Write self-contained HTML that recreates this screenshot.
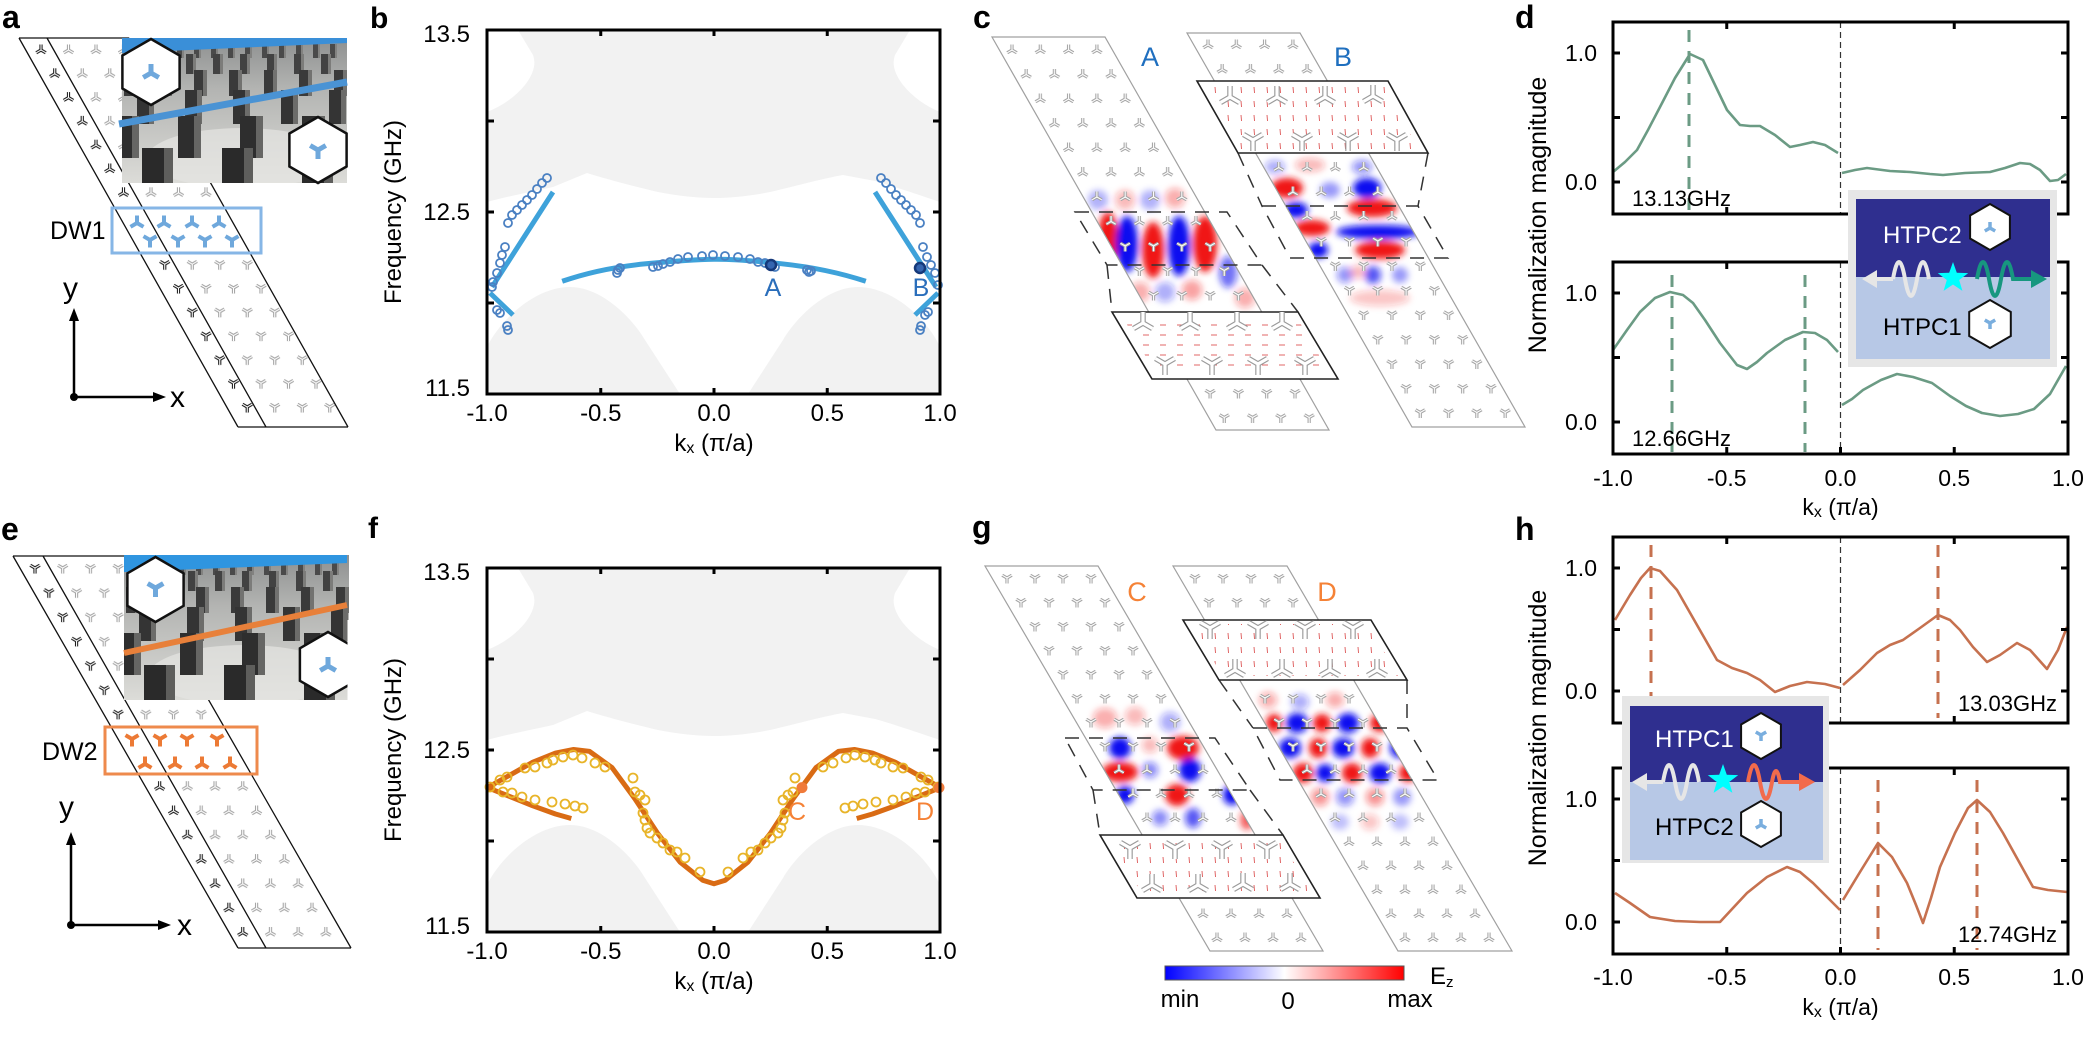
<!DOCTYPE html>
<html><head><meta charset="utf-8"><style>html,body{margin:0;padding:0;background:#fff}svg{display:block}</style></head>
<body>
<svg xmlns="http://www.w3.org/2000/svg" width="2096" height="1051" viewBox="0 0 2096 1051" font-family="'Liberation Sans', Arial, sans-serif">
<defs>
<path id="pA" d="M0 0V-5.5M0 0L-4.8 2.8M0 0L4.8 2.8" fill="none"/>
<path id="pY" d="M0 0V5.5M0 0L-4.8-2.8M0 0L4.8-2.8" fill="none"/>
<g id="kA"><use href="#pA" stroke="#1a1a1a" stroke-width="3.2"/><use href="#pA" stroke="#fff" stroke-width="1.1"/></g>
<g id="kY"><use href="#pY" stroke="#1a1a1a" stroke-width="3.2"/><use href="#pY" stroke="#fff" stroke-width="1.1"/></g>
<g id="gA"><use href="#pA" stroke="#a3a3a3" stroke-width="3.2"/><use href="#pA" stroke="#fff" stroke-width="1.1"/></g>
<g id="gY"><use href="#pY" stroke="#a3a3a3" stroke-width="3.2"/><use href="#pY" stroke="#fff" stroke-width="1.1"/></g>
<path id="pAm" d="M0 0V-7.5M0 0L-6.5 3.8M0 0L6.5 3.8" fill="none"/>
<path id="pYm" d="M0 0V7.5M0 0L-6.5-3.8M0 0L6.5-3.8" fill="none"/>
<path id="pAh" d="M0 0V-9M0 0L-7.8 4.5M0 0L7.8 4.5" fill="none"/>
<path id="pYh" d="M0 0V9M0 0L-7.8-4.5M0 0L7.8-4.5" fill="none"/>
<path id="pAs" d="M0 0V-6M0 0L-5.2 3M0 0L5.2 3" fill="none"/>
<path id="pYs" d="M0 0V6M0 0L-5.2-3M0 0L5.2-3" fill="none"/>
<path id="pAb" d="M0 0V-11M0 0L-9.5 5.5M0 0L9.5 5.5" fill="none"/>
<path id="pYb" d="M0 0V11M0 0L-9.5-5.5M0 0L9.5-5.5" fill="none"/>
<g id="bA"><use href="#pAb" stroke="#9a9a9a" stroke-width="5.5"/><use href="#pAb" stroke="#fff" stroke-width="3.2"/></g>
<g id="bY"><use href="#pYb" stroke="#9a9a9a" stroke-width="5.5"/><use href="#pYb" stroke="#fff" stroke-width="3.2"/></g>

<pattern id="paKA" patternUnits="userSpaceOnUse" x="34" y="43" width="27.5" height="47.6"><use href="#kA" x="7" y="7"/><use href="#kA" x="20.75" y="30.8"/></pattern>
<pattern id="paGA" patternUnits="userSpaceOnUse" x="34" y="43" width="27.5" height="47.6"><use href="#gA" x="7" y="7"/><use href="#gA" x="20.75" y="30.8"/></pattern>
<pattern id="paKY" patternUnits="userSpaceOnUse" x="34" y="43" width="27.5" height="47.6"><use href="#kY" x="7" y="7"/><use href="#kY" x="20.75" y="30.8"/></pattern>
<pattern id="paGY" patternUnits="userSpaceOnUse" x="34" y="43" width="27.5" height="47.6"><use href="#gY" x="7" y="7"/><use href="#gY" x="20.75" y="30.8"/></pattern>
<pattern id="peKA" patternUnits="userSpaceOnUse" x="28" y="561" width="27.7" height="48.6"><use href="#kA" x="7" y="7"/><use href="#kA" x="20.85" y="31.3"/></pattern>
<pattern id="peGA" patternUnits="userSpaceOnUse" x="28" y="561" width="27.7" height="48.6"><use href="#gA" x="7" y="7"/><use href="#gA" x="20.85" y="31.3"/></pattern>
<pattern id="peKY" patternUnits="userSpaceOnUse" x="28" y="561" width="27.7" height="48.6"><use href="#kY" x="7" y="7"/><use href="#kY" x="20.85" y="31.3"/></pattern>
<pattern id="peGY" patternUnits="userSpaceOnUse" x="28" y="561" width="27.7" height="48.6"><use href="#gY" x="7" y="7"/><use href="#gY" x="20.85" y="31.3"/></pattern>
<pattern id="pcAA" patternUnits="userSpaceOnUse" x="1005" y="43" width="28.3" height="49"><use href="#gA" x="7" y="7"/><use href="#gA" x="21.15" y="31.5"/></pattern>
<pattern id="pcAY" patternUnits="userSpaceOnUse" x="1005" y="43" width="28.3" height="49"><use href="#gY" x="7" y="7"/><use href="#gY" x="21.15" y="31.5"/></pattern>
<pattern id="pcBA" patternUnits="userSpaceOnUse" x="1201" y="38" width="28.3" height="49"><use href="#gA" x="7" y="7"/><use href="#gA" x="21.15" y="31.5"/></pattern>
<pattern id="pcBY" patternUnits="userSpaceOnUse" x="1201" y="38" width="28.3" height="49"><use href="#gY" x="7" y="7"/><use href="#gY" x="21.15" y="31.5"/></pattern>
<pattern id="pgCA" patternUnits="userSpaceOnUse" x="1000" y="571" width="28" height="48"><use href="#gA" x="7" y="7"/><use href="#gA" x="21" y="31"/></pattern>
<pattern id="pgCY" patternUnits="userSpaceOnUse" x="1000" y="571" width="28" height="48"><use href="#gY" x="7" y="7"/><use href="#gY" x="21" y="31"/></pattern>
<pattern id="pgDA" patternUnits="userSpaceOnUse" x="1188" y="571" width="28" height="48"><use href="#gA" x="7" y="7"/><use href="#gA" x="21" y="31"/></pattern>
<pattern id="pgDY" patternUnits="userSpaceOnUse" x="1188" y="571" width="28" height="48"><use href="#gY" x="7" y="7"/><use href="#gY" x="21" y="31"/></pattern>

<pattern id="arH" patternUnits="userSpaceOnUse" width="17" height="10"><path d="M4 5H10" stroke="#d42a2a" stroke-width="0.9" opacity="0.8"/></pattern>
<pattern id="arV" patternUnits="userSpaceOnUse" width="13" height="14"><path d="M6 3L6.5 9" stroke="#d42a2a" stroke-width="0.9" opacity="0.8"/></pattern>

<filter id="bl" x="-30%" y="-30%" width="160%" height="160%"><feGaussianBlur stdDeviation="3.5"/></filter>

<clipPath id="clA"><polygon points="1073.7,180 1186.7,180 1262,312 1149,312"/></clipPath>
<clipPath id="clB"><polygon points="1255.5,153 1368.5,153 1469.6,330 1356.6,330"/></clipPath>
<clipPath id="clC"><polygon points="1063,700 1176,700 1255,835 1142,835"/></clipPath>
<clipPath id="clD"><polygon points="1240,680 1354,680 1459,860 1345,860"/></clipPath>
<clipPath id="clb"><rect x="487" y="30" width="453" height="364"/></clipPath>
<clipPath id="phc"><rect x="0" y="0" width="225" height="145"/></clipPath>

<linearGradient id="phg" x1="0" y1="0" x2="0" y2="1"><stop offset="0" stop-color="#8e9090"/><stop offset="0.35" stop-color="#b3b4b2"/><stop offset="1" stop-color="#dcdcd8"/></linearGradient>
<pattern id="pr1" patternUnits="userSpaceOnUse" x="4" y="0" width="17" height="200"><rect x="0" y="0" width="5" height="200" fill="#4a4a4a"/><rect x="5" y="0" width="2" height="200" fill="#828280"/></pattern>
<pattern id="pr2" patternUnits="userSpaceOnUse" x="10" y="0" width="27" height="200"><rect x="0" y="0" width="7" height="200" fill="#424242"/><rect x="7" y="0" width="3" height="200" fill="#7c7c7a"/></pattern>
<pattern id="pr3" patternUnits="userSpaceOnUse" x="2" y="0" width="35" height="200"><rect x="0" y="0" width="9" height="200" fill="#3a3a3a"/><rect x="9" y="0" width="4" height="200" fill="#727270"/></pattern>
<pattern id="pr4" patternUnits="userSpaceOnUse" x="15" y="0" width="48" height="200"><rect x="0" y="0" width="12" height="200" fill="#343434"/><rect x="12" y="0" width="5" height="200" fill="#6c6c6a"/></pattern>
<pattern id="pr5" patternUnits="userSpaceOnUse" x="-6" y="0" width="62" height="200"><rect x="0" y="0" width="16" height="200" fill="#2e2e2e"/><rect x="16" y="0" width="7" height="200" fill="#666664"/></pattern>
<pattern id="pr6" patternUnits="userSpaceOnUse" x="20" y="0" width="80" height="200"><rect x="0" y="0" width="22" height="200" fill="#2a2a2a"/><rect x="22" y="0" width="9" height="200" fill="#5e5e5c"/></pattern>
<g id="photo"><g clip-path="url(#phc)">
<rect x="0" y="0" width="225" height="145" fill="url(#phg)"/>
<ellipse cx="120" cy="120" rx="95" ry="30" fill="#e6e6e2" opacity="0.7"/>
<rect x="0" y="6" width="225" height="14" fill="url(#pr1)"/>
<rect x="0" y="16" width="225" height="20" fill="url(#pr2)"/>
<rect x="0" y="32" width="225" height="26" fill="url(#pr3)"/>
<rect x="0" y="52" width="225" height="34" fill="url(#pr4)"/>
<rect x="0" y="78" width="225" height="42" fill="url(#pr5)"/>
<rect x="0" y="110" width="225" height="40" fill="url(#pr6)"/>
</g></g>
<linearGradient id="cbar" x1="0" y1="0" x2="1" y2="0"><stop offset="0" stop-color="#0000ff"/><stop offset="0.5" stop-color="#ffffff"/><stop offset="1" stop-color="#ff0000"/></linearGradient>
</defs>

<rect x="0" y="0" width="2096" height="1051" fill="#fff"/>

<!-- ================= PANEL a ================= -->
<text x="2" y="28" font-size="32" font-weight="bold">a</text>
<polygon points="19,38 47,38 141,205 113,205" fill="url(#paKA)"/>
<polygon points="47,38 129,38 223,205 141,205" fill="url(#paGA)"/>
<polygon points="141.7,256 169.7,256 266,427 238,427" fill="url(#paKY)"/>
<polygon points="169.7,256 251.7,256 348,427 266,427" fill="url(#paGY)"/>
<g stroke="#111" stroke-width="1.3" fill="none">
<path d="M19 38L238 427M47 38L266 427M129 38L348 427M19 38H129M238 427H348"/>
</g>
<use href="#photo" transform="translate(122,38)"/>
<polygon points="122,38 347,38 347,43 122,53" fill="#3a8fd8"/>
<polygon points="151,39 179.6,55.5 179.6,88.5 151,105 122.4,88.5 122.4,55.5" fill="#fff" stroke="#111" stroke-width="2.5"/>
<use href="#pAh" x="151" y="73" stroke="#6fa8dc" stroke-width="5"/>
<line x1="119" y1="124" x2="347" y2="82" stroke="#4a93d4" stroke-width="7"/>
<polygon points="318,117 346.6,133.5 346.6,166.5 318,183 289.4,166.5 289.4,133.5" fill="#fff" stroke="#111" stroke-width="2.5"/>
<use href="#pYh" x="318" y="150" stroke="#6fa8dc" stroke-width="5"/>
<rect x="112" y="208" width="149" height="45" fill="none" stroke="#86b6e6" stroke-width="3"/>
<g stroke="#6fa8dc" stroke-width="4">
<use href="#pAm" x="137" y="223"/><use href="#pAm" x="164" y="223"/><use href="#pAm" x="192" y="223"/><use href="#pAm" x="219" y="223"/>
<use href="#pYm" x="150" y="240"/><use href="#pYm" x="178" y="240"/><use href="#pYm" x="205" y="240"/><use href="#pYm" x="232" y="240"/>
</g>
<text x="50" y="239" font-size="25">DW1</text>
<g stroke="#000" stroke-width="2.5" fill="#000">
<line x1="74" y1="397" x2="74" y2="318"/><polygon points="74,308 69,321 79,321" stroke="none"/>
<line x1="74" y1="397" x2="155" y2="397"/><polygon points="166,397 153,392 153,402" stroke="none"/>
<circle cx="74" cy="397" r="4" stroke="none"/>
</g>
<text x="63" y="298" font-size="30">y</text>
<text x="170" y="407" font-size="30">x</text>

<!-- ================= PANEL e ================= -->
<text x="1" y="540" font-size="32" font-weight="bold">e</text>
<polygon points="13,556 43,556 141,728 112,728" fill="url(#peKY)"/>
<polygon points="43,556 126,556 225,728 141,728" fill="url(#peGY)"/>
<polygon points="139,776 168,776 266,948 238,948" fill="url(#peKA)"/>
<polygon points="168,776 252,776 351,948 266,948" fill="url(#peGA)"/>
<g stroke="#111" stroke-width="1.3" fill="none">
<path d="M13 556L238 948M43 556L266 948M126 556L351 948M13 556H126M238 948H351"/>
</g>
<use href="#photo" transform="translate(124,555)"/>
<polygon points="124,555 347,555 347,563 124,572" fill="#2f95e0"/>
<polygon points="155.5,557 183.6,573.3 183.6,605.8 155.5,622 127.4,605.8 127.4,573.3" fill="#fff" stroke="#111" stroke-width="2.5"/>
<use href="#pYh" x="155.5" y="588" stroke="#6fa8dc" stroke-width="5"/>
<line x1="124" y1="653" x2="347" y2="605" stroke="#e8803a" stroke-width="6"/>
<polygon points="328,632 356.1,648.3 356.1,680.8 328,697 299.9,680.8 299.9,648.3" fill="#fff" stroke="#111" stroke-width="2.5"/>
<rect x="347.5" y="620" width="12" height="85" fill="#fff"/>
<use href="#pAh" x="328" y="666" stroke="#6fa8dc" stroke-width="5"/>
<rect x="105" y="727" width="152" height="47" fill="none" stroke="#ee8a4c" stroke-width="3"/>
<g stroke="#ec7a35" stroke-width="4">
<use href="#pYm" x="132" y="739"/><use href="#pYm" x="160" y="739"/><use href="#pYm" x="187" y="739"/><use href="#pYm" x="217" y="739"/>
<use href="#pAm" x="145" y="764"/><use href="#pAm" x="175" y="764"/><use href="#pAm" x="202" y="764"/><use href="#pAm" x="230" y="764"/>
</g>
<text x="42" y="760" font-size="25">DW2</text>
<g stroke="#000" stroke-width="2.5" fill="#000">
<line x1="71" y1="925" x2="71" y2="842"/><polygon points="71,832 66,845 76,845" stroke="none"/>
<line x1="71" y1="925" x2="160" y2="925"/><polygon points="171,925 158,920 158,930" stroke="none"/>
<circle cx="71" cy="925" r="4" stroke="none"/>
</g>
<text x="59" y="817" font-size="30">y</text>
<text x="177" y="935" font-size="30">x</text>

<!-- ================= PANEL b ================= -->
<text x="370" y="28" font-size="30" font-weight="bold">b</text>
<g clip-path="url(#clb)" fill="#f2f2f2">
<path d="M518 30L910 30L895 55Q890 68 903 85Q918 103 940 112L940 202C925 197 890 185 875 181L843 175C825 178 800 185 770 192C750 196 730 198 714 198C698 198 678 196 658 192C628 185 603 178 587 173L553 187C530 192 505 197 487 202L487 112Q510 103 525 85Q538 68 533 55Z"/>
<path d="M487 347C500 320 535 287 570 287C600 287 630 315 645 340L680 394L487 394Z"/>
<path d="M940 347C928 320 893 287 858 287C828 287 798 315 783 340L748 394L940 394Z"/>
</g>
<g stroke="#3ea2da" stroke-width="5" fill="none" stroke-linecap="butt">
<path d="M562.2 281.3Q600.75 268 646 263.8T714 259.3T782 263.8T865.8 281.3"/>
<path d="M553 192L492 287M490 293L513 315"/>
<path d="M875 192L936 287M938 293L915 315"/>
</g>
<g fill="none" stroke="#4a80c2" stroke-width="1.8">
<circle cx="547" cy="178" r="4"/><circle cx="542" cy="183" r="4"/><circle cx="537" cy="189" r="4"/><circle cx="532" cy="195" r="4"/><circle cx="527" cy="200" r="4"/><circle cx="522" cy="205" r="4"/><circle cx="517" cy="210" r="4"/><circle cx="512" cy="215" r="4"/><circle cx="508" cy="223" r="4"/><circle cx="505" cy="247" r="4"/><circle cx="502" cy="255" r="4"/><circle cx="500" cy="263" r="4"/><circle cx="497" cy="273" r="4"/><circle cx="493" cy="282" r="4"/><circle cx="492" cy="287" r="4"/><circle cx="497" cy="310" r="4"/><circle cx="500" cy="313" r="4"/><circle cx="508" cy="330" r="4"/><circle cx="507" cy="326" r="4"/>
<circle cx="881" cy="178" r="4"/><circle cx="886" cy="183" r="4"/><circle cx="891" cy="189" r="4"/><circle cx="896" cy="195" r="4"/><circle cx="901" cy="200" r="4"/><circle cx="906" cy="205" r="4"/><circle cx="911" cy="210" r="4"/><circle cx="916" cy="215" r="4"/><circle cx="920" cy="223" r="4"/><circle cx="923" cy="247" r="4"/><circle cx="927" cy="257" r="4"/><circle cx="931" cy="265" r="4"/><circle cx="935" cy="273" r="4"/><circle cx="938" cy="285" r="4"/><circle cx="928" cy="312" r="4"/><circle cx="925" cy="315" r="4"/><circle cx="920" cy="330" r="4"/><circle cx="921" cy="326" r="4"/>
<circle cx="617" cy="273" r="4"/><circle cx="618" cy="270" r="4"/><circle cx="620" cy="268" r="4"/><circle cx="653" cy="267" r="4"/><circle cx="658" cy="266" r="4"/><circle cx="663" cy="264" r="4"/><circle cx="670" cy="262" r="4"/><circle cx="678" cy="259" r="4"/><circle cx="688" cy="257" r="4"/><circle cx="702" cy="256" r="4"/><circle cx="713" cy="255" r="4"/><circle cx="725" cy="256" r="4"/><circle cx="738" cy="257" r="4"/><circle cx="750" cy="259" r="4"/><circle cx="758" cy="262" r="4"/><circle cx="765" cy="263" r="4"/><circle cx="775" cy="267" r="4"/><circle cx="807" cy="270" r="4"/><circle cx="809" cy="272" r="4"/><circle cx="811" cy="271" r="4"/>
</g>
<circle cx="771" cy="265" r="5" fill="#3565b0" stroke="#15397a" stroke-width="2.5"/>
<circle cx="920" cy="268" r="5" fill="#3565b0" stroke="#15397a" stroke-width="2.5"/>
<text x="773" y="296" font-size="25" fill="#2a6ebb" text-anchor="middle">A</text>
<text x="921" y="296" font-size="25" fill="#2a6ebb" text-anchor="middle">B</text>
<rect x="487" y="30" width="453" height="364" fill="none" stroke="#000" stroke-width="3"/>
<path d="M487 121h7M487 212h7M487 303h7M940 121h-7M940 212h-7M940 303h-7M600.75 30v6M714 30v6M827.25 30v6M600.75 394v-6M714 394v-6M827.25 394v-6" stroke="#000" stroke-width="3"/>
<g font-size="24" text-anchor="end"><text x="470" y="42">13.5</text><text x="470" y="220">12.5</text><text x="470" y="396">11.5</text></g>
<g font-size="24" text-anchor="middle"><text x="487" y="421">-1.0</text><text x="600.75" y="421">-0.5</text><text x="714" y="421">0.0</text><text x="827.25" y="421">0.5</text><text x="940" y="421">1.0</text>
<text x="714" y="451">k<tspan font-size="16" dy="2">x</tspan><tspan dy="-2"> (π/a)</tspan></text></g>
<text transform="translate(401,212) rotate(-90)" font-size="24" text-anchor="middle">Frequency (GHz)</text>

<!-- ================= PANEL f ================= -->
<text x="368" y="538" font-size="30" font-weight="bold">f</text>
<g transform="translate(0,538)">
<g clip-path="url(#clb)" fill="#f2f2f2">
<path d="M518 30L910 30L895 55Q890 68 903 85Q918 103 940 112L940 202C925 197 890 185 875 181L843 175C825 178 800 185 770 192C750 196 730 198 714 198C698 198 678 196 658 192C628 185 603 178 587 173L553 187C530 192 505 197 487 202L487 112Q510 103 525 85Q538 68 533 55Z"/>
<path d="M487 347C500 320 535 287 570 287C600 287 630 315 645 340L680 394L487 394Z"/>
<path d="M940 347C928 320 893 287 858 287C828 287 798 315 783 340L748 394L940 394Z"/>
</g>
</g>
<g stroke="#d96b14" stroke-width="5" fill="none" stroke-linejoin="round">
<polyline points="487.5,787.6 510.2,774.9 532.8,762.2 555.5,753.1 573.6,749.5 589.4,751.3 612.1,767.7 634.7,798.5 657.4,833 680,862 702.7,880.2 714,883.8 725.3,880.2 748,862 770.6,833 793.3,798.5 815.9,767.7 838.6,751.3 854.4,749.5 872.5,753.1 895.2,762.2 917.8,774.9 940.5,787.6"/>
<polyline points="487.5,787.6 510.2,796.7 532.8,805.8 555.5,814 571.3,818.5"/>
<polyline points="856.7,818.5 872.5,814 895.2,805.8 917.8,796.7 940.5,787.6"/>
</g>
<g fill="none" stroke="#e8b428" stroke-width="1.8">
<circle cx="490" cy="787" r="4.5"/><circle cx="500" cy="780" r="4.5"/><circle cx="507" cy="777" r="4.5"/><circle cx="525" cy="768" r="4.5"/><circle cx="535" cy="767" r="4.5"/><circle cx="547" cy="763" r="4.5"/><circle cx="553" cy="760" r="4.5"/><circle cx="563" cy="757" r="4.5"/><circle cx="573" cy="755" r="4.5"/><circle cx="582" cy="758" r="4.5"/><circle cx="595" cy="763" r="4.5"/><circle cx="605" cy="767" r="4.5"/><circle cx="633" cy="778" r="4.5"/><circle cx="635" cy="792" r="4.5"/><circle cx="640" cy="795" r="4.5"/><circle cx="645" cy="800" r="4.5"/><circle cx="643" cy="813" r="4.5"/><circle cx="645" cy="820" r="4.5"/><circle cx="647" cy="828" r="4.5"/><circle cx="650" cy="833" r="4.5"/><circle cx="657" cy="838" r="4.5"/><circle cx="663" cy="843" r="4.5"/><circle cx="670" cy="850" r="4.5"/><circle cx="677" cy="852" r="4.5"/><circle cx="685" cy="858" r="4.5"/><circle cx="700" cy="872" r="4.5"/><circle cx="728" cy="872" r="4.5"/>
<circle cx="938" cy="787" r="4.5"/><circle cx="928" cy="780" r="4.5"/><circle cx="921" cy="777" r="4.5"/><circle cx="903" cy="768" r="4.5"/><circle cx="893" cy="767" r="4.5"/><circle cx="881" cy="763" r="4.5"/><circle cx="875" cy="760" r="4.5"/><circle cx="865" cy="757" r="4.5"/><circle cx="855" cy="755" r="4.5"/><circle cx="846" cy="758" r="4.5"/><circle cx="833" cy="763" r="4.5"/><circle cx="823" cy="767" r="4.5"/><circle cx="795" cy="778" r="4.5"/><circle cx="793" cy="792" r="4.5"/><circle cx="788" cy="795" r="4.5"/><circle cx="783" cy="800" r="4.5"/><circle cx="785" cy="813" r="4.5"/><circle cx="783" cy="820" r="4.5"/><circle cx="781" cy="828" r="4.5"/><circle cx="778" cy="833" r="4.5"/><circle cx="771" cy="838" r="4.5"/><circle cx="765" cy="843" r="4.5"/><circle cx="758" cy="850" r="4.5"/><circle cx="751" cy="852" r="4.5"/><circle cx="743" cy="858" r="4.5"/>
<circle cx="503" cy="792" r="4.5"/><circle cx="512" cy="793" r="4.5"/><circle cx="522" cy="797" r="4.5"/><circle cx="535" cy="800" r="4.5"/><circle cx="552" cy="802" r="4.5"/><circle cx="565" cy="804" r="4.5"/><circle cx="575" cy="806" r="4.5"/><circle cx="583" cy="808" r="4.5"/>
<circle cx="925" cy="792" r="4.5"/><circle cx="916" cy="793" r="4.5"/><circle cx="906" cy="797" r="4.5"/><circle cx="893" cy="800" r="4.5"/><circle cx="876" cy="802" r="4.5"/><circle cx="863" cy="804" r="4.5"/><circle cx="853" cy="806" r="4.5"/><circle cx="845" cy="808" r="4.5"/>
</g>
<circle cx="802" cy="787.6" r="5.5" fill="#f07a3a"/>
<circle cx="939" cy="787.6" r="5.5" fill="#f07a3a"/>
<text x="797" y="820" font-size="25" fill="#f58236" text-anchor="middle">C</text>
<text x="925" y="820" font-size="25" fill="#f58236" text-anchor="middle">D</text>
<rect x="487" y="568" width="453" height="364" fill="none" stroke="#000" stroke-width="3"/>
<path d="M487 659h7M487 750h7M487 841h7M940 659h-7M940 750h-7M940 841h-7M600.75 568v6M714 568v6M827.25 568v6M600.75 932v-6M714 932v-6M827.25 932v-6" stroke="#000" stroke-width="3"/>
<g font-size="24" text-anchor="end"><text x="470" y="580">13.5</text><text x="470" y="758">12.5</text><text x="470" y="934">11.5</text></g>
<g font-size="24" text-anchor="middle"><text x="487" y="959">-1.0</text><text x="600.75" y="959">-0.5</text><text x="714" y="959">0.0</text><text x="827.25" y="959">0.5</text><text x="940" y="959">1.0</text>
<text x="714" y="989">k<tspan font-size="16" dy="2">x</tspan><tspan dy="-2"> (π/a)</tspan></text></g>
<text transform="translate(401,750) rotate(-90)" font-size="24" text-anchor="middle">Frequency (GHz)</text>

<!-- ================= PANEL c ================= -->
<text x="973" y="28" font-size="32" font-weight="bold">c</text>
<polygon points="992,37 1105,37 1329,430 1216,430" fill="#fff"/>
<polygon points="1187,33 1300,33 1525,427 1412,427" fill="#fff"/>
<g clip-path="url(#clA)"><g filter="url(#bl)">
<ellipse cx="1098" cy="200" rx="10" ry="10" fill="#1010f0" opacity=".3"/><ellipse cx="1125" cy="200" rx="10" ry="10" fill="#f01818" opacity=".3"/><ellipse cx="1150" cy="200" rx="10" ry="10" fill="#1010f0" opacity=".3"/><ellipse cx="1175" cy="198" rx="10" ry="10" fill="#f01818" opacity=".35"/>
<ellipse cx="1108" cy="238" rx="10" ry="26" fill="#f01818"/>
<ellipse cx="1127" cy="244" rx="11" ry="28" fill="#1010f0"/>
<ellipse cx="1153" cy="250" rx="11" ry="28" fill="#f01818"/>
<ellipse cx="1179" cy="246" rx="11" ry="30" fill="#1010f0"/>
<ellipse cx="1205" cy="244" rx="12" ry="28" fill="#f01818"/>
<ellipse cx="1228" cy="272" rx="9" ry="16" fill="#1010f0" opacity=".6"/>
<ellipse cx="1140" cy="292" rx="10" ry="10" fill="#f01818" opacity=".35"/><ellipse cx="1165" cy="292" rx="10" ry="10" fill="#1010f0" opacity=".35"/><ellipse cx="1192" cy="290" rx="10" ry="10" fill="#f01818" opacity=".4"/><ellipse cx="1245" cy="298" rx="10" ry="10" fill="#f01818" opacity=".35"/>
</g></g>
<g clip-path="url(#clB)"><g filter="url(#bl)">
<ellipse cx="1275" cy="167" rx="10" ry="7" fill="#1010f0" opacity=".35"/><ellipse cx="1310" cy="165" rx="15" ry="7" fill="#f01818" opacity=".3"/><ellipse cx="1362" cy="167" rx="10" ry="7" fill="#1010f0" opacity=".45"/>
<ellipse cx="1287" cy="188" rx="16" ry="10" fill="#f01818"/><ellipse cx="1330" cy="190" rx="10" ry="8" fill="#1010f0" opacity=".4"/><ellipse cx="1367" cy="188" rx="14" ry="10" fill="#1010f0"/>
<ellipse cx="1296" cy="210" rx="12" ry="8" fill="#1010f0"/><ellipse cx="1372" cy="208" rx="25" ry="9" fill="#f01818"/>
<ellipse cx="1312" cy="228" rx="18" ry="8" fill="#f01818"/><ellipse cx="1378" cy="232" rx="42" ry="7" fill="#1010f0"/>
<ellipse cx="1318" cy="250" rx="10" ry="8" fill="#1010f0"/><ellipse cx="1380" cy="250" rx="25" ry="9" fill="#f01818"/>
<ellipse cx="1345" cy="275" rx="8" ry="8" fill="#1010f0" opacity=".45"/><ellipse cx="1373" cy="275" rx="8" ry="9" fill="#1010f0" opacity=".7"/><ellipse cx="1400" cy="275" rx="8" ry="8" fill="#1010f0" opacity=".4"/><ellipse cx="1358" cy="272" rx="8" ry="7" fill="#f01818" opacity=".3"/>
<ellipse cx="1380" cy="298" rx="30" ry="8" fill="#f01818" opacity=".25"/>
</g></g>
<polygon points="992,37 1105,37 1218,235 1105,235" fill="url(#pcAA)"/>
<polygon points="1105,235 1218,235 1329,430 1216,430" fill="url(#pcAY)"/>
<polygon points="1187,33 1300,33 1412.5,230 1299.5,230" fill="url(#pcBA)"/>
<polygon points="1299.5,230 1412.5,230 1525,427 1412,427" fill="url(#pcBY)"/>
<polygon points="992,37 1105,37 1329,430 1216,430" fill="none" stroke="#a0a0a0" stroke-width="1.2"/>
<polygon points="1187,33 1300,33 1525,427 1412,427" fill="none" stroke="#a0a0a0" stroke-width="1.2"/>
<g fill="none" stroke="#333" stroke-width="1.5" stroke-dasharray="14,10">
<polygon points="1075,212 1227,212 1262,265 1107,265"/>
<path d="M1107 265L1112 312M1262 265L1298 312"/>
<polygon points="1262,206 1418,206 1448,258 1290,258"/>
<path d="M1238 153L1262 206M1428 153L1418 206"/>
</g>
<polygon points="1112,312 1298,312 1338,379 1152,379" fill="#fff"/>
<polygon points="1122,316 1296,316 1330,374 1156,374" fill="url(#arH)"/>
<polygon points="1112,312 1298,312 1338,379 1152,379" fill="none" stroke="#222" stroke-width="1.6"/>
<use href="#bA" x="1143" y="323"/><use href="#bA" x="1190" y="323"/><use href="#bA" x="1237" y="323"/><use href="#bA" x="1282" y="323"/>
<use href="#bY" x="1165" y="364"/><use href="#bY" x="1212" y="364"/><use href="#bY" x="1258" y="364"/><use href="#bY" x="1305" y="364"/>
<polygon points="1197,81 1388,81 1428,153 1238,153" fill="#fff"/>
<polygon points="1207,85 1384,85 1418,149 1240,149" fill="url(#arV)"/>
<polygon points="1197,81 1388,81 1428,153 1238,153" fill="none" stroke="#222" stroke-width="1.6"/>
<use href="#bA" x="1230" y="97"/><use href="#bA" x="1277" y="97"/><use href="#bA" x="1325" y="97"/><use href="#bA" x="1373" y="96"/>
<use href="#bY" x="1253" y="140"/><use href="#bY" x="1302" y="140"/><use href="#bY" x="1348" y="140"/><use href="#bY" x="1397" y="140"/>
<text x="1150" y="66" font-size="27" fill="#1f6fbf" text-anchor="middle">A</text>
<text x="1343" y="66" font-size="27" fill="#1f6fbf" text-anchor="middle">B</text>

<!-- ================= PANEL g ================= -->
<text x="972" y="538" font-size="32" font-weight="bold">g</text>
<polygon points="985,566 1098,566 1323,951 1210,951" fill="#fff"/>
<polygon points="1173,566 1287,566 1512,951 1398,951" fill="#fff"/>
<g clip-path="url(#clC)"><g filter="url(#bl)">
<ellipse cx="1105" cy="718" rx="12" ry="10" fill="#f01818" opacity=".35"/><ellipse cx="1135" cy="716" rx="10" ry="9" fill="#f01818" opacity=".3"/><ellipse cx="1170" cy="722" rx="10" ry="10" fill="#1010f0" opacity=".35"/>
<ellipse cx="1120" cy="748" rx="11" ry="11" fill="#1010f0"/><ellipse cx="1183" cy="748" rx="16" ry="12" fill="#f01818"/><ellipse cx="1150" cy="745" rx="8" ry="8" fill="#f01818" opacity=".3"/>
<ellipse cx="1120" cy="772" rx="18" ry="10" fill="#f01818"/><ellipse cx="1150" cy="770" rx="8" ry="8" fill="#1010f0" opacity=".5"/><ellipse cx="1190" cy="770" rx="11" ry="12" fill="#1010f0"/><ellipse cx="1235" cy="775" rx="8" ry="10" fill="#f01818" opacity=".7"/>
<ellipse cx="1125" cy="795" rx="9" ry="9" fill="#1010f0"/><ellipse cx="1177" cy="795" rx="12" ry="11" fill="#f01818"/><ellipse cx="1232" cy="795" rx="9" ry="10" fill="#1010f0"/>
<ellipse cx="1160" cy="818" rx="8" ry="8" fill="#1010f0" opacity=".5"/><ellipse cx="1193" cy="818" rx="8" ry="10" fill="#1010f0" opacity=".7"/><ellipse cx="1247" cy="820" rx="7" ry="10" fill="#f01818" opacity=".7"/>
</g></g>
<g clip-path="url(#clD)"><g filter="url(#bl)">
<ellipse cx="1268" cy="700" rx="9" ry="8" fill="#f01818" opacity=".35"/><ellipse cx="1300" cy="702" rx="9" ry="8" fill="#1010f0" opacity=".35"/><ellipse cx="1335" cy="700" rx="9" ry="8" fill="#f01818" opacity=".35"/>
<ellipse cx="1274" cy="723" rx="8" ry="9" fill="#f01818"/><ellipse cx="1297" cy="723" rx="11" ry="10" fill="#1010f0"/><ellipse cx="1322" cy="723" rx="9" ry="9" fill="#f01818"/><ellipse cx="1348" cy="723" rx="11" ry="10" fill="#1010f0"/><ellipse cx="1380" cy="723" rx="10" ry="9" fill="#f01818"/>
<ellipse cx="1290" cy="748" rx="11" ry="10" fill="#1010f0"/><ellipse cx="1318" cy="748" rx="9" ry="10" fill="#f01818"/><ellipse cx="1343" cy="748" rx="11" ry="10" fill="#1010f0"/><ellipse cx="1370" cy="748" rx="9" ry="10" fill="#f01818"/><ellipse cx="1400" cy="748" rx="10" ry="10" fill="#1010f0"/>
<ellipse cx="1303" cy="773" rx="10" ry="10" fill="#f01818"/><ellipse cx="1325" cy="773" rx="9" ry="9" fill="#1010f0"/><ellipse cx="1352" cy="773" rx="10" ry="10" fill="#f01818"/><ellipse cx="1380" cy="773" rx="11" ry="10" fill="#1010f0"/><ellipse cx="1408" cy="773" rx="9" ry="9" fill="#f01818"/>
<ellipse cx="1320" cy="797" rx="9" ry="9" fill="#f01818" opacity=".45"/><ellipse cx="1345" cy="797" rx="9" ry="9" fill="#1010f0" opacity=".45"/><ellipse cx="1375" cy="797" rx="9" ry="9" fill="#f01818" opacity=".45"/><ellipse cx="1402" cy="797" rx="9" ry="9" fill="#1010f0" opacity=".4"/>
<ellipse cx="1340" cy="822" rx="9" ry="8" fill="#1010f0" opacity=".25"/><ellipse cx="1370" cy="822" rx="9" ry="8" fill="#f01818" opacity=".25"/><ellipse cx="1400" cy="822" rx="9" ry="8" fill="#1010f0" opacity=".25"/>
</g></g>
<polygon points="985,566 1098,566 1210.3,758 1097.3,758" fill="url(#pgCY)"/>
<polygon points="1097.3,758 1210.3,758 1323,951 1210,951" fill="url(#pgCA)"/>
<polygon points="1173,566 1287,566 1399.3,758 1285.3,758" fill="url(#pgDY)"/>
<polygon points="1285.3,758 1399.3,758 1512,951 1398,951" fill="url(#pgDA)"/>
<polygon points="985,566 1098,566 1323,951 1210,951" fill="none" stroke="#a0a0a0" stroke-width="1.2"/>
<polygon points="1173,566 1287,566 1512,951 1398,951" fill="none" stroke="#a0a0a0" stroke-width="1.2"/>
<g fill="none" stroke="#333" stroke-width="1.5" stroke-dasharray="14,10">
<polygon points="1065,738 1215,738 1250,790 1093,790"/>
<path d="M1093 790L1100 835M1250 790L1283 835"/>
<polygon points="1253,728 1407,728 1438,780 1280,780"/>
<path d="M1219 680L1253 728M1407 680L1407 728"/>
</g>
<polygon points="1100,835 1283,835 1320,898 1137,898" fill="#fff"/>
<polygon points="1110,839 1280,839 1312,894 1142,894" fill="url(#arV)"/>
<polygon points="1100,835 1283,835 1320,898 1137,898" fill="none" stroke="#222" stroke-width="1.6"/>
<use href="#bY" x="1130" y="848"/><use href="#bY" x="1175" y="848"/><use href="#bY" x="1222" y="848"/><use href="#bY" x="1267" y="848"/>
<use href="#bA" x="1152" y="885"/><use href="#bA" x="1198" y="885"/><use href="#bA" x="1243" y="884"/><use href="#bA" x="1290" y="884"/>
<polygon points="1183,620 1371,620 1407,680 1219,680" fill="#fff"/>
<polygon points="1193,624 1368,624 1398,676 1222,676" fill="url(#arV)"/>
<polygon points="1183,620 1371,620 1407,680 1219,680" fill="none" stroke="#222" stroke-width="1.6"/>
<use href="#bY" x="1210" y="628"/><use href="#bY" x="1258" y="628"/><use href="#bY" x="1305" y="628"/><use href="#bY" x="1353" y="628"/>
<use href="#bA" x="1235" y="670"/><use href="#bA" x="1282" y="670"/><use href="#bA" x="1330" y="670"/><use href="#bA" x="1377" y="670"/>
<text x="1137" y="601" font-size="27" fill="#f58236" text-anchor="middle">C</text>
<text x="1327" y="601" font-size="27" fill="#f58236" text-anchor="middle">D</text>
<rect x="1165" y="966" width="239" height="14" fill="url(#cbar)" stroke="#555" stroke-width="1"/>
<g font-size="24" text-anchor="middle"><text x="1180" y="1007">min</text><text x="1288" y="1009">0</text><text x="1410" y="1007">max</text></g>
<text x="1430" y="984" font-size="24">E<tspan font-size="15" dy="3">z</tspan></text>

<!-- ================= PANEL d ================= -->
<text x="1515" y="28" font-size="32" font-weight="bold">d</text>
<text transform="translate(1546,215) rotate(-90)" font-size="25" text-anchor="middle">Normalization magnitude</text>
<g fill="none" stroke="#333" stroke-width="1.2" stroke-dasharray="6,4"><path d="M1840.5 22V214M1840.5 262V454"/></g>
<g fill="none" stroke="#6b9b84" stroke-width="3" stroke-dasharray="12,9"><path d="M1689 30V210M1672 275V452M1805 275V452"/></g>
<g fill="none" stroke="#6b9b84" stroke-width="2.6" stroke-linejoin="round">
<polyline points="1613,172 1625,162 1637,150 1648,130 1660,107 1675,78 1690,54 1703,60 1715,85 1727,110 1740,125 1750,126 1760,126 1775,135 1790,147 1800,145 1813,142 1825,145 1838,153"/>
<polyline points="1842,173 1855,170 1867,168 1890,171 1910,172 1930,174 1943,175 1965,173 1990,172 2005,168 2020,163 2030,164 2040,170 2050,181 2058,180 2066,174"/>
<polyline points="1613,350 1627,330 1640,312 1655,298 1670,292 1683,295 1693,303 1705,320 1720,343 1737,365 1747,369 1757,362 1767,353 1785,340 1803,332 1815,333 1827,340 1838,352"/>
<polyline points="1842,405 1852,399 1863,390 1881,380 1897,374 1913,377 1932,383 1950,396 1966,406 1982,413 2000,416 2018,414 2034,409 2050,394 2066,366"/>
</g>
<rect x="1613" y="22" width="455" height="192" fill="none" stroke="#000" stroke-width="3"/>
<rect x="1613" y="262" width="455" height="192" fill="none" stroke="#000" stroke-width="3"/>
<path d="M1613 53h7M1613 117.5h7M1613 182h7M2068 53h-7M2068 117.5h-7M2068 182h-7M1726.75 22v7M1954.25 22v7M1726.75 214v-7M1954.25 214v-7M1613 293h7M1613 357.5h7M1613 422h7M2068 293h-7M2068 357.5h-7M2068 422h-7M1726.75 262v7M1954.25 262v7M1726.75 454v-7M1954.25 454v-7M1840.5 454v-7" stroke="#000" stroke-width="3"/>
<g font-size="23" text-anchor="end"><text x="1597" y="61">1.0</text><text x="1597" y="190">0.0</text><text x="1597" y="301">1.0</text><text x="1597" y="430">0.0</text></g>
<g font-size="23" text-anchor="middle"><text x="1613" y="486">-1.0</text><text x="1726.75" y="486">-0.5</text><text x="1840.5" y="486">0.0</text><text x="1954.25" y="486">0.5</text><text x="2068" y="486">1.0</text>
<text x="1840.5" y="515">k<tspan font-size="16" dy="2">x</tspan><tspan dy="-2"> (π/a)</tspan></text></g>
<text x="1632" y="206" font-size="22">13.13GHz</text>
<text x="1632" y="446" font-size="22">12.66GHz</text>
<rect x="1848" y="190" width="209" height="177" fill="#e6e6e6"/>
<rect x="1856" y="199" width="194" height="78" fill="#2f2f8f"/>
<rect x="1856" y="277" width="194" height="82" fill="#b7c8e6"/>
<text x="1883" y="243" font-size="24" fill="#fff">HTPC2</text>
<text x="1883" y="335" font-size="24" fill="#000">HTPC1</text>
<polygon points="1990,204 2009.9,215.5 2009.9,238.5 1990,250 1970.1,238.5 1970.1,215.5" fill="#fff" stroke="#111" stroke-width="2"/>
<use href="#pAs" x="1990" y="228" stroke="#7aaede" stroke-width="3.5"/>
<polygon points="1990,300 2010.8,312 2010.8,336 1990,348 1969.2,336 1969.2,312" fill="#fff" stroke="#111" stroke-width="2"/>
<use href="#pYs" x="1990" y="323" stroke="#7aaede" stroke-width="3.5"/>
<g fill="none" stroke="#e6e6e6" stroke-width="4"><path d="M1872 279H1893M1893 279Q1899 245 1905 279Q1911 313 1917 279Q1923 245 1929 279"/></g>
<polygon points="1862,279 1877,270 1877,288" fill="#e6e6e6"/>
<polygon points="1953,262 1956.8,272.7 1968.2,273.1 1959.2,280 1962.4,290.9 1953,284.5 1943.6,290.9 1946.8,280 1937.8,273.1 1949.2,272.7" fill="#00ffff"/>
<g fill="none" stroke="#17977f" stroke-width="4"><path d="M1977 279Q1983 245 1989 279Q1995 313 2001 279Q2007 245 2013 279H2033"/></g>
<polygon points="2047,279 2031,270 2031,288" fill="#17977f"/>

<!-- ================= PANEL h ================= -->
<text x="1515" y="540" font-size="32" font-weight="bold">h</text>
<text transform="translate(1546,728) rotate(-90)" font-size="25" text-anchor="middle">Normalization magnitude</text>
<g fill="none" stroke="#333" stroke-width="1.2" stroke-dasharray="6,4"><path d="M1840.5 537V723M1840.5 768V954"/></g>
<g fill="none" stroke="#c6714f" stroke-width="3" stroke-dasharray="12,9"><path d="M1651 545V718M1938 545V718M1878 780V950M1977 780V950"/></g>
<g fill="none" stroke="#c6714f" stroke-width="2.6" stroke-linejoin="round">
<polyline points="1615,620 1630,595 1641,578 1650,568 1660,571 1677,590 1697,625 1717,660 1732,668 1747,673 1760,680 1775,692 1790,686 1807,682 1825,684 1840,688"/>
<polyline points="1843,685 1860,670 1877,653 1890,645 1903,640 1920,628 1938,615 1950,620 1960,630 1973,647 1987,662 2000,655 2017,643 2030,650 2047,669 2058,650 2067,627"/>
<polyline points="1615,893 1630,903 1650,917 1675,921 1700,922 1720,922 1733,908 1747,893 1767,877 1787,867 1800,872 1813,883 1828,898 1840,910"/>
<polyline points="1843,900 1860,872 1878,843 1892,857 1907,883 1916,905 1923,923 1931,898 1940,867 1955,833 1968,808 1977,800 1990,812 2003,833 2018,860 2033,887 2048,890 2067,892"/>
</g>
<rect x="1613" y="537" width="455" height="186" fill="none" stroke="#000" stroke-width="3"/>
<rect x="1613" y="768" width="455" height="186" fill="none" stroke="#000" stroke-width="3"/>
<path d="M1613 568h7M1613 629.5h7M1613 691h7M2068 568h-7M2068 629.5h-7M2068 691h-7M1726.75 537v7M1954.25 537v7M1726.75 723v-7M1954.25 723v-7M1613 799h7M1613 860.5h7M1613 922h7M2068 799h-7M2068 860.5h-7M2068 922h-7M1726.75 768v7M1954.25 768v7M1726.75 954v-7M1954.25 954v-7M1840.5 954v-7" stroke="#000" stroke-width="3"/>
<g font-size="23" text-anchor="end"><text x="1597" y="576">1.0</text><text x="1597" y="699">0.0</text><text x="1597" y="807">1.0</text><text x="1597" y="930">0.0</text></g>
<g font-size="23" text-anchor="middle"><text x="1613" y="985">-1.0</text><text x="1726.75" y="985">-0.5</text><text x="1840.5" y="985">0.0</text><text x="1954.25" y="985">0.5</text><text x="2068" y="985">1.0</text>
<text x="1840.5" y="1015">k<tspan font-size="16" dy="2">x</tspan><tspan dy="-2"> (π/a)</tspan></text></g>
<text x="2057" y="711" font-size="22" text-anchor="end">13.03GHz</text>
<text x="2057" y="942" font-size="22" text-anchor="end">12.74GHz</text>
<rect x="1622" y="696" width="207" height="167" fill="#e6e6e6"/>
<rect x="1630" y="706" width="193" height="76" fill="#2f2f8f"/>
<rect x="1630" y="782" width="193" height="78" fill="#b7c8e6"/>
<text x="1655" y="747" font-size="24" fill="#fff">HTPC1</text>
<text x="1655" y="835" font-size="24" fill="#000">HTPC2</text>
<polygon points="1761,713 1780.9,724.5 1780.9,747.5 1761,759 1741.1,747.5 1741.1,724.5" fill="#fff" stroke="#111" stroke-width="2"/>
<use href="#pYs" x="1761" y="735" stroke="#7aaede" stroke-width="3.5"/>
<polygon points="1761,801 1780.9,812.5 1780.9,835.5 1761,847 1741.1,835.5 1741.1,812.5" fill="#fff" stroke="#111" stroke-width="2"/>
<use href="#pAs" x="1761" y="825" stroke="#7aaede" stroke-width="3.5"/>
<g fill="none" stroke="#e6e6e6" stroke-width="4"><path d="M1645 782H1663M1663 782Q1669 748 1675 782Q1681 816 1687 782Q1693 748 1699 782"/></g>
<polygon points="1632,782 1647,773 1647,791" fill="#e6e6e6"/>
<polygon points="1723,764 1726.8,774.7 1738.2,775.1 1729.2,782 1732.4,792.9 1723,786.5 1713.6,792.9 1716.8,782 1707.8,775.1 1719.2,774.7" fill="#00ffff"/>
<g fill="none" stroke="#f26b4c" stroke-width="4"><path d="M1748 782Q1754 748 1760 782Q1766 816 1772 782Q1776 760 1780 782H1800"/></g>
<polygon points="1815,782 1799,773 1799,791" fill="#f26b4c"/>
</svg>
</body></html>
